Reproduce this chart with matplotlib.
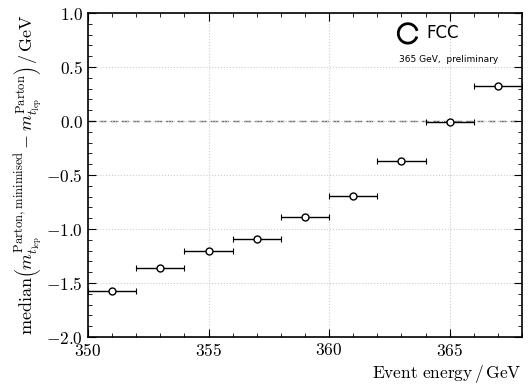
import matplotlib
matplotlib.use("Agg")
import matplotlib.pyplot as plt
from matplotlib.patches import Arc
from matplotlib.ticker import MultipleLocator
import numpy as np

plt.rcParams['mathtext.fontset'] = 'cm'
plt.rcParams['font.family'] = 'serif'
plt.rcParams['font.serif'] = ['cmr10', 'DejaVu Serif']
plt.rcParams['axes.formatter.use_mathtext'] = True

energy = [351, 353, 355, 357, 359, 361, 363, 365, 367]
energy_err = [1, 1, 1, 1, 1, 1, 1, 1, 1]
median_diff = [-1.57, -1.357, -1.205, -1.09, -0.89, -0.69, -0.37, -0.01, 0.325]

fig = plt.figure(figsize=(5.3, 3.84), dpi=100)
ax = fig.add_axes([88/530, 1-337/384, (522-88)/530, (337-13)/384])

ax.axhline(0, color='#666666', ls=(0, (5, 3)), lw=1.0, zorder=1)
ax.errorbar(energy, median_diff, xerr=energy_err, fmt='o', color='black',
            mfc='white', mec='black', ms=5, lw=1.0, capsize=2, capthick=0.8, zorder=3)

ax.set_xlim(350, 368)
ax.set_ylim(-2.0, 1.0)
ax.xaxis.set_major_locator(MultipleLocator(5))
ax.xaxis.set_minor_locator(MultipleLocator(1))
ax.yaxis.set_major_locator(MultipleLocator(0.5))
ax.yaxis.set_minor_locator(MultipleLocator(0.1))
ax.tick_params(which='both', direction='in', top=True, right=True, labelsize=12.5)
ax.tick_params(which='major', length=6, width=0.8)
ax.tick_params(which='minor', length=3, width=0.6)
ax.yaxis.set_major_formatter(plt.FuncFormatter(lambda v, p: r'$%.1f$' % v if abs(v) > 1e-9 else r'$0.0$'))
ax.xaxis.set_major_formatter(plt.FuncFormatter(lambda v, p: r'$%d$' % v))
ax.grid(True, which='major', ls=':', color='#cccccc', lw=0.8)
for s in ax.spines.values():
    s.set_linewidth(1.2)

ax.set_ylabel(r'$\mathrm{median}\left(m_{t_{\mathrm{lep}}}^{\mathrm{Parton,minimised}} - m_{t_{\mathrm{lep}}}^{\mathrm{Parton}}\right)\,/\,\mathrm{GeV}$', fontsize=13, labelpad=1)
ax.set_xlabel(r'$\mathrm{Event\ energy}\,/\,\mathrm{GeV}$', fontsize=12.5, loc='right', labelpad=3)

# FCC logo
arc = Arc((0.737, 0.937), 0.044, 0.060, theta1=20, theta2=335, transform=ax.transAxes,
          color='black', lw=2.0)
ax.add_patch(arc)
ax.text(0.78, 0.937, 'FCC', transform=ax.transAxes, fontsize=12, family='DejaVu Sans',
        va='center', ha='left')
ax.text(0.717, 0.857, '365 GeV,  preliminary', transform=ax.transAxes, fontsize=6.5,
        family='DejaVu Sans', va='center', ha='left')

fig.savefig('out.png', dpi=100)
